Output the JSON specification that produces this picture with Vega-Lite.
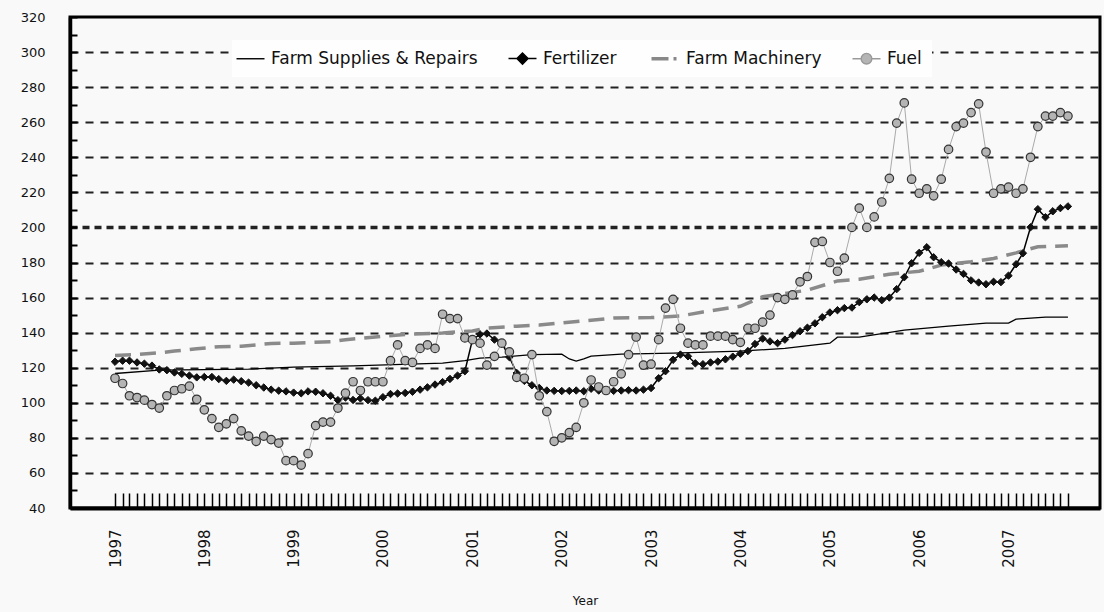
{
"$schema":"https://vega.github.io/schema/vega-lite/v6.json",
"width":1030,"height":491,
"autosize":{"type":"none"},
"padding":{"left":70,"top":17,"right":4,"bottom":104},
"background":"#f9f9f9",
"config":{"view":{"stroke":"#000","strokeWidth":3,"fill":"#f9f9f9"},"font":"DejaVu Sans"},
"datasets":{
"fuel":[
{"date":"1997-01","value":114},{"date":"1997-02","value":111},{"date":"1997-03","value":104},{"date":"1997-04","value":103},{"date":"1997-05","value":101.5},{"date":"1997-06","value":99},{"date":"1997-07","value":97},{"date":"1997-08","value":104},{"date":"1997-09","value":107},{"date":"1997-10","value":108},{"date":"1997-11","value":109.5},{"date":"1997-12","value":102},
{"date":"1998-01","value":96},{"date":"1998-02","value":91},{"date":"1998-03","value":86},{"date":"1998-04","value":88},{"date":"1998-05","value":91},{"date":"1998-06","value":84},{"date":"1998-07","value":81},{"date":"1998-08","value":78},{"date":"1998-09","value":81},{"date":"1998-10","value":79},{"date":"1998-11","value":77},{"date":"1998-12","value":67},
{"date":"1999-01","value":67},{"date":"1999-02","value":64.5},{"date":"1999-03","value":71},{"date":"1999-04","value":87},{"date":"1999-05","value":89},{"date":"1999-06","value":89},{"date":"1999-07","value":97},{"date":"1999-08","value":105.5},{"date":"1999-09","value":112},{"date":"1999-10","value":107},{"date":"1999-11","value":112},{"date":"1999-12","value":112},
{"date":"2000-01","value":112},{"date":"2000-02","value":124},{"date":"2000-03","value":133},{"date":"2000-04","value":124},{"date":"2000-05","value":123},{"date":"2000-06","value":131},{"date":"2000-07","value":133},{"date":"2000-08","value":131},{"date":"2000-09","value":150.5},{"date":"2000-10","value":148},{"date":"2000-11","value":148},{"date":"2000-12","value":137},
{"date":"2001-01","value":136},{"date":"2001-02","value":134},{"date":"2001-03","value":121.5},{"date":"2001-04","value":126.5},{"date":"2001-05","value":134},{"date":"2001-06","value":129},{"date":"2001-07","value":114.5},{"date":"2001-08","value":114},{"date":"2001-09","value":127.5},{"date":"2001-10","value":104},{"date":"2001-11","value":95},{"date":"2001-12","value":78},
{"date":"2002-01","value":80},{"date":"2002-02","value":83},{"date":"2002-03","value":86},{"date":"2002-04","value":100},{"date":"2002-05","value":113},{"date":"2002-06","value":109},{"date":"2002-07","value":107},{"date":"2002-08","value":112},{"date":"2002-09","value":116.5},{"date":"2002-10","value":127.5},{"date":"2002-11","value":137.5},{"date":"2002-12","value":121.5},
{"date":"2003-01","value":122},{"date":"2003-02","value":136},{"date":"2003-03","value":154},{"date":"2003-04","value":159},{"date":"2003-05","value":142.5},{"date":"2003-06","value":134},{"date":"2003-07","value":133},{"date":"2003-08","value":133},{"date":"2003-09","value":138},{"date":"2003-10","value":138},{"date":"2003-11","value":138},{"date":"2003-12","value":136},
{"date":"2004-01","value":134.5},{"date":"2004-02","value":142.5},{"date":"2004-03","value":142.5},{"date":"2004-04","value":146},{"date":"2004-05","value":150},{"date":"2004-06","value":160},{"date":"2004-07","value":159},{"date":"2004-08","value":161.5},{"date":"2004-09","value":169},{"date":"2004-10","value":172},{"date":"2004-11","value":191.5},{"date":"2004-12","value":192},
{"date":"2005-01","value":180},{"date":"2005-02","value":175},{"date":"2005-03","value":182.5},{"date":"2005-04","value":200},{"date":"2005-05","value":211},{"date":"2005-06","value":200},{"date":"2005-07","value":206},{"date":"2005-08","value":214.5},{"date":"2005-09","value":228},{"date":"2005-10","value":259.5},{"date":"2005-11","value":271},{"date":"2005-12","value":227.5},
{"date":"2006-01","value":219.5},{"date":"2006-02","value":222},{"date":"2006-03","value":218},{"date":"2006-04","value":227.5},{"date":"2006-05","value":244.5},{"date":"2006-06","value":257.5},{"date":"2006-07","value":259.5},{"date":"2006-08","value":265.5},{"date":"2006-09","value":270.5},{"date":"2006-10","value":243},{"date":"2006-11","value":219.5},{"date":"2006-12","value":222},
{"date":"2007-01","value":223},{"date":"2007-02","value":219.5},{"date":"2007-03","value":222},{"date":"2007-04","value":240},{"date":"2007-05","value":257.5},{"date":"2007-06","value":263.5},{"date":"2007-07","value":263.5},{"date":"2007-08","value":265.5},{"date":"2007-09","value":263.5}
],
"fert":[
{"date":"1997-01","value":123.4},{"date":"1997-02","value":124},{"date":"1997-03","value":124},{"date":"1997-04","value":123},{"date":"1997-05","value":122.3},{"date":"1997-06","value":121.2},{"date":"1997-07","value":119},{"date":"1997-08","value":118.6},{"date":"1997-09","value":117.3},{"date":"1997-10","value":116.5},{"date":"1997-11","value":115.5},{"date":"1997-12","value":114.5},
{"date":"1998-01","value":114.7},{"date":"1998-02","value":114.7},{"date":"1998-03","value":113.5},{"date":"1998-04","value":112.5},{"date":"1998-05","value":113.2},{"date":"1998-06","value":112.3},{"date":"1998-07","value":111.5},{"date":"1998-08","value":110},{"date":"1998-09","value":108.7},{"date":"1998-10","value":107.5},{"date":"1998-11","value":106.9},{"date":"1998-12","value":106.5},
{"date":"1999-01","value":105.8},{"date":"1999-02","value":105.4},{"date":"1999-03","value":106.5},{"date":"1999-04","value":106.3},{"date":"1999-05","value":105.4},{"date":"1999-06","value":104},{"date":"1999-07","value":101.5},{"date":"1999-08","value":103},{"date":"1999-09","value":101.6},{"date":"1999-10","value":102.5},{"date":"1999-11","value":101.5},{"date":"1999-12","value":101.2},
{"date":"2000-01","value":103.2},{"date":"2000-02","value":105},{"date":"2000-03","value":105.3},{"date":"2000-04","value":105.6},{"date":"2000-05","value":106.3},{"date":"2000-06","value":107.5},{"date":"2000-07","value":108.8},{"date":"2000-08","value":110.4},{"date":"2000-09","value":111.8},{"date":"2000-10","value":113.6},{"date":"2000-11","value":115.5},{"date":"2000-12","value":118},
{"date":"2001-01","value":136},{"date":"2001-02","value":139},{"date":"2001-03","value":139.5},{"date":"2001-04","value":136},{"date":"2001-05","value":134},{"date":"2001-06","value":126},{"date":"2001-07","value":117},{"date":"2001-08","value":112.5},{"date":"2001-09","value":110},{"date":"2001-10","value":108.5},{"date":"2001-11","value":107},{"date":"2001-12","value":106.8},
{"date":"2002-01","value":106.7},{"date":"2002-02","value":106.8},{"date":"2002-03","value":107},{"date":"2002-04","value":106.6},{"date":"2002-05","value":108},{"date":"2002-06","value":107},{"date":"2002-07","value":106.8},{"date":"2002-08","value":106.8},{"date":"2002-09","value":107},{"date":"2002-10","value":107.2},{"date":"2002-11","value":107},{"date":"2002-12","value":107.5},
{"date":"2003-01","value":108.4},{"date":"2003-02","value":114},{"date":"2003-03","value":118},{"date":"2003-04","value":124.5},{"date":"2003-05","value":127.5},{"date":"2003-06","value":126.5},{"date":"2003-07","value":122.5},{"date":"2003-08","value":122},{"date":"2003-09","value":123},{"date":"2003-10","value":123.5},{"date":"2003-11","value":124.8},{"date":"2003-12","value":126.3},
{"date":"2004-01","value":128},{"date":"2004-02","value":129.5},{"date":"2004-03","value":133.5},{"date":"2004-04","value":136.6},{"date":"2004-05","value":135},{"date":"2004-06","value":134},{"date":"2004-07","value":136},{"date":"2004-08","value":138.6},{"date":"2004-09","value":140.8},{"date":"2004-10","value":142.8},{"date":"2004-11","value":145.3},{"date":"2004-12","value":148.8},
{"date":"2005-01","value":151.5},{"date":"2005-02","value":152.8},{"date":"2005-03","value":154},{"date":"2005-04","value":154.3},{"date":"2005-05","value":157.4},{"date":"2005-06","value":159},{"date":"2005-07","value":160},{"date":"2005-08","value":158.5},{"date":"2005-09","value":160},{"date":"2005-10","value":164.8},{"date":"2005-11","value":171.6},{"date":"2005-12","value":179.6},
{"date":"2006-01","value":185.5},{"date":"2006-02","value":188.7},{"date":"2006-03","value":183},{"date":"2006-04","value":180.2},{"date":"2006-05","value":179.4},{"date":"2006-06","value":176},{"date":"2006-07","value":173.5},{"date":"2006-08","value":169.8},{"date":"2006-09","value":168.6},{"date":"2006-10","value":167.6},{"date":"2006-11","value":169},{"date":"2006-12","value":168.8},
{"date":"2007-01","value":172.5},{"date":"2007-02","value":179},{"date":"2007-03","value":185.3},{"date":"2007-04","value":200.1},{"date":"2007-05","value":210.4},{"date":"2007-06","value":205.8},{"date":"2007-07","value":209.2},{"date":"2007-08","value":211},{"date":"2007-09","value":212}
],
"supplies":[
{"date":"1997-01","value":116.7,"series":"Farm Supplies & Repairs"},{"date":"1997-07","value":118.6,"series":"Farm Supplies & Repairs"},{"date":"1998-07","value":119.2,"series":"Farm Supplies & Repairs"},{"date":"1999-01","value":120.3,"series":"Farm Supplies & Repairs"},{"date":"1999-09","value":121,"series":"Farm Supplies & Repairs"},{"date":"2000-09","value":122.6,"series":"Farm Supplies & Repairs"},{"date":"2000-12","value":124,"series":"Farm Supplies & Repairs"},{"date":"2001-02","value":125.5,"series":"Farm Supplies & Repairs"},{"date":"2001-05","value":126,"series":"Farm Supplies & Repairs"},{"date":"2001-09","value":127.5,"series":"Farm Supplies & Repairs"},{"date":"2002-01","value":127.7,"series":"Farm Supplies & Repairs"},{"date":"2002-02","value":125,"series":"Farm Supplies & Repairs"},{"date":"2002-03","value":123.8,"series":"Farm Supplies & Repairs"},{"date":"2002-04","value":125,"series":"Farm Supplies & Repairs"},{"date":"2002-05","value":126.6,"series":"Farm Supplies & Repairs"},{"date":"2002-09","value":127.7,"series":"Farm Supplies & Repairs"},{"date":"2003-04","value":128.3,"series":"Farm Supplies & Repairs"},{"date":"2004-01","value":129.5,"series":"Farm Supplies & Repairs"},{"date":"2004-07","value":131,"series":"Farm Supplies & Repairs"},{"date":"2005-01","value":134,"series":"Farm Supplies & Repairs"},{"date":"2005-02","value":137.4,"series":"Farm Supplies & Repairs"},{"date":"2005-05","value":137.5,"series":"Farm Supplies & Repairs"},{"date":"2005-11","value":141.4,"series":"Farm Supplies & Repairs"},{"date":"2006-05","value":143.7,"series":"Farm Supplies & Repairs"},{"date":"2006-10","value":145.4,"series":"Farm Supplies & Repairs"},{"date":"2007-01","value":145.4,"series":"Farm Supplies & Repairs"},{"date":"2007-02","value":147.7,"series":"Farm Supplies & Repairs"},{"date":"2007-06","value":148.8,"series":"Farm Supplies & Repairs"},{"date":"2007-09","value":148.8,"series":"Farm Supplies & Repairs"}
],
"machinery":[
{"date":"1997-01","value":127},{"date":"1997-04","value":127.5},{"date":"1997-07","value":128.5},{"date":"1997-09","value":129.5},{"date":"1997-12","value":130.8},{"date":"1998-03","value":132},{"date":"1998-06","value":132.3},{"date":"1998-10","value":133.8},{"date":"1999-01","value":134},{"date":"1999-06","value":134.8},{"date":"1999-08","value":136},{"date":"1999-12","value":137.5},{"date":"2000-04","value":139},{"date":"2000-09","value":139.8},{"date":"2001-01","value":141},{"date":"2001-03","value":142.6},{"date":"2001-07","value":143.7},{"date":"2001-10","value":144.3},{"date":"2002-01","value":145.6},{"date":"2002-05","value":147.1},{"date":"2002-08","value":148.3},{"date":"2003-01","value":148.6},{"date":"2003-05","value":149.5},{"date":"2003-08","value":151.8},{"date":"2004-01","value":155},{"date":"2004-04","value":160.5},{"date":"2004-10","value":164.2},{"date":"2005-02","value":169.5},{"date":"2005-05","value":170.5},{"date":"2005-09","value":173.3},{"date":"2006-01","value":175},{"date":"2006-04","value":178.5},{"date":"2006-08","value":180.4},{"date":"2006-11","value":182.3},{"date":"2007-02","value":185.5},{"date":"2007-05","value":189},{"date":"2007-09","value":189.5}
]
},
"encoding":{
"x":{"field":"date","type":"temporal",
 "scale":{"type":"utc","domain":[{"year":1996,"month":7,"date":1,"utc":true},{"year":2008,"month":1,"date":10,"utc":true}]},
 "axis":{"title":"Year","tickCount":{"interval":"month","step":1},
  "labelExpr":"utcmonth(datum.value) == 0 && utcyear(datum.value) <= 2007 ? utcFormat(datum.value, '%Y') : ''",
  "labelAngle":270,"labelAlign":"right","labelBaseline":"middle","labelOverlap":false,"labelFlush":false,
  "labelFont":"DejaVu Sans","labelFontSize":15,"labelColor":"#111","labelPadding":36,
  "tickSize":-15,"tickWidth":1.5,"tickColor":"#000",
  "tickOpacity":{"condition":{"test":"datum.value < utc(1997,0,1) || datum.value > utc(2007,8,2)","value":0},"value":1},
  "domainColor":"#000","domainWidth":4,"grid":false,
  "titleFont":"DejaVu Sans","titleFontSize":12,"titleFontWeight":"normal","titleColor":"#111","titlePadding":28}},
"y":{"field":"value","type":"quantitative",
 "scale":{"domain":[40,320],"nice":false,"zero":false},
 "axis":{"title":null,"values":[40,50,60,70,80,90,100,110,120,130,140,150,160,170,180,190,200,210,220,230,240,250,260,270,280,290,300,310,320],
  "labelExpr":"datum.value % 20 == 0 ? datum.label : ''","labelOverlap":false,
  "labelFont":"DejaVu Sans","labelFontSize":13,"labelColor":"#111","labelPadding":32,
  "tickSize":-7,"tickWidth":2,"tickColor":"#000","domainColor":"#000","domainWidth":3.5,
  "grid":true,"gridColor":"#222",
  "gridDash":{"condition":{"test":"datum.value == 200","value":[7,5]},"value":[8,7]},
  "gridWidth":{"condition":{"test":"datum.value == 200","value":3.5},"value":1.8},
  "gridOpacity":{"condition":{"test":"datum.value % 20 != 0 || datum.value == 40 || datum.value == 320","value":0},"value":1}}}
},
"layer":[
{"data":{"name":"supplies"},"mark":{"type":"line","strokeWidth":1.3},
 "encoding":{"color":{"field":"series","type":"nominal",
  "scale":{"domain":["Farm Supplies & Repairs","Fertilizer","Farm Machinery","Fuel"],"range":["#000","#000","#888","#999"]},
  "legend":{"orient":"none","legendX":162,"legendY":23,"direction":"horizontal","title":null,
   "fillColor":"#fefefe","padding":10,"labelFont":"DejaVu Sans","labelFontSize":17,"labelColor":"#111","labelLimit":0,
   "labelOffset":12,"columnPadding":27,"symbolSize":784,"symbolType":"stroke",
   "encode":{"symbols":{"update":{
    "shape":{"signal":"datum.value === 'Fertilizer' ? 'M-1,0H-0.4M0.4,0H1M0,-0.4L0.4,0L0,0.4L-0.4,0Z' : datum.value === 'Fuel' ? 'M-1,0H-0.38M0.38,0H1M-0.38,0A0.38,0.38 0 1,1 0.38,0A0.38,0.38 0 1,1 -0.38,0Z' : 'stroke'"},
    "fill":{"signal":"datum.value === 'Fertilizer' ? '#000' : datum.value === 'Fuel' ? '#b4b4b4' : 'transparent'"},
    "stroke":{"signal":"datum.value === 'Farm Machinery' ? '#888' : '#000'"},
    "strokeWidth":{"signal":"datum.value === 'Farm Machinery' ? 3.5 : 1.4"},
    "strokeDash":{"signal":"datum.value === 'Farm Machinery' ? [17,5,3,6] : null"}
   }}}}}}},
{"data":{"name":"machinery"},"mark":{"type":"line","stroke":"#8a8a8a","strokeWidth":3.5,"strokeDash":[16,9]},"encoding":{}},
{"data":{"name":"fert"},"mark":{"type":"line","stroke":"#000","strokeWidth":1.5},"encoding":{}},
{"data":{"name":"fert"},"mark":{"type":"point","shape":"diamond","filled":true,"fill":"#111","stroke":"#111","strokeWidth":1,"size":55,"opacity":1},"encoding":{}},
{"data":{"name":"fuel"},"mark":{"type":"line","stroke":"#aaa","strokeWidth":1},"encoding":{}},
{"data":{"name":"fuel"},"mark":{"type":"point","shape":"circle","filled":true,"fill":"#b4b4b4","stroke":"#333","strokeWidth":1.2,"size":72,"opacity":1},"encoding":{}}
]
}
